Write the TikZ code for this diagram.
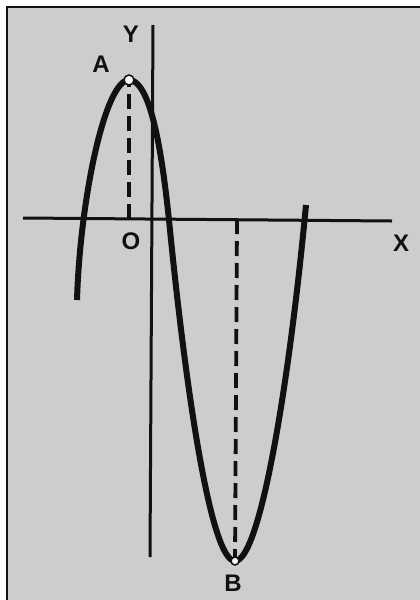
\documentclass[tikz,border=0pt]{standalone}
\usepackage{fontspec}
\setmainfont{Liberation Sans}
\definecolor{ink}{HTML}{111111}
\definecolor{bg}{HTML}{CDCDCD}
\begin{document}
\begin{tikzpicture}[x=1pt,y=-1pt,
  curve/.style={line width=6pt, line join=round, color=ink},
  axis/.style={line width=3pt, color=ink},
  guide/.style={line width=3.8pt, dash pattern=on 15pt off 7pt, color=ink},
  lbl/.style={font=\bfseries\fontsize{24}{24}\selectfont, inner sep=0pt, text=ink},
  dot/.style={circle, draw=ink, line width=1.5pt, fill=white!80!bg, minimum size=10pt, inner sep=0pt}]
\fill[white] (0,0) rectangle (420,600);
\useasboundingbox (0,0) rectangle (420,600);
\fill[bg] (7,7) rectangle (420,600);
\draw[line width=2.5pt, ink] (7,600) -- (7,7) -- (420,7);
% axes
\coordinate (xl) at (23,218);
\coordinate (xr) at (392,221);
\coordinate (yt) at (153,25);
\coordinate (yb) at (150,557);
\draw[axis] (xl) -- (xr);
\draw[axis] (yt) -- (yb);
% extremum points and their feet
\coordinate (Apt) at (129,80);
\coordinate (Afoot) at (129,219);
\coordinate (Bpt) at (235,561);
\coordinate (Bfoot) at (237,219);
\coordinate (c0) at (77,300);
\coordinate (c1) at (170,230);
\coordinate (c2) at (306,205);
% curve
\draw[curve] (c0) .. controls (80,200) and (105,80) .. (Apt)
  .. controls (153,80) and (164,170) .. (c1)
  .. controls (185,380) and (210,561) .. (Bpt)
  .. controls (260,561) and (289,385) .. (c2);
\draw[guide] (Afoot) -- (Apt);
\draw[guide] (Bfoot) -- (Bpt);
\node[dot] (A) at (Apt) {};
\node[dot, minimum size=8pt] (B) at (Bpt) {};
% labels
\node[lbl] (ly) at (131,34) {Y};
\node[lbl] (la) at (101,64) {A};
\node[lbl] (lo) at (131,241) {O};
\node[lbl] (lx) at (401,243) {X};
\node[lbl] (lb) at (233,583) {B};
\end{tikzpicture}
\end{document}
